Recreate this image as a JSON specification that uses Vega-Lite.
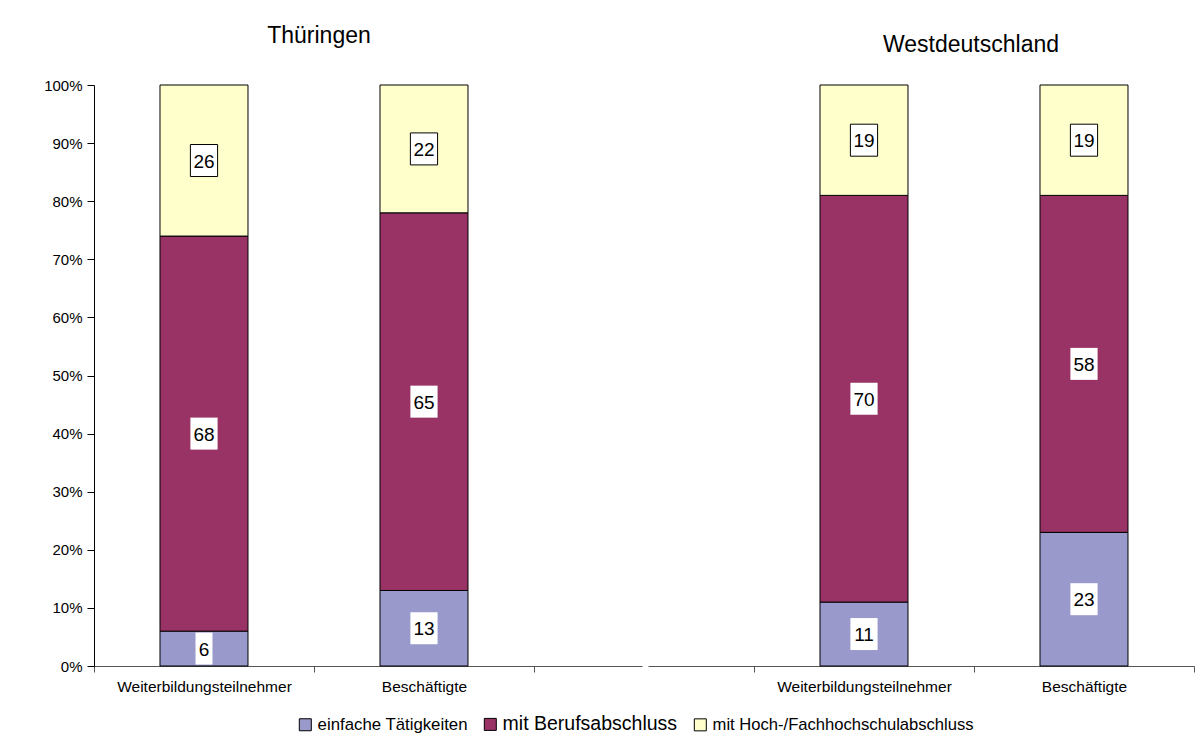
{
  "$schema": "https://vega.github.io/schema/vega-lite/v6.json",
  "padding": {"left": 43, "top": 25, "right": 0, "bottom": 0},
  "spacing": 6,
  "config": {
    "view": {"stroke": null},
    "font": "Liberation Sans",
    "title": {"fontSize": 23, "fontWeight": "normal", "color": "black", "font": "Liberation Sans"}
  },
  "data": {
    "values": [
      {"region": "Thüringen", "group": "Weiterbildungsteilnehmer", "cat": "einfache Tätigkeiten", "ord": 1, "value": 6},
      {"region": "Thüringen", "group": "Weiterbildungsteilnehmer", "cat": "mit Berufsabschluss", "ord": 2, "value": 68},
      {"region": "Thüringen", "group": "Weiterbildungsteilnehmer", "cat": "mit Hoch-/Fachhochschulabschluss", "ord": 3, "value": 26},
      {"region": "Thüringen", "group": "Beschäftigte", "cat": "einfache Tätigkeiten", "ord": 1, "value": 13},
      {"region": "Thüringen", "group": "Beschäftigte", "cat": "mit Berufsabschluss", "ord": 2, "value": 65},
      {"region": "Thüringen", "group": "Beschäftigte", "cat": "mit Hoch-/Fachhochschulabschluss", "ord": 3, "value": 22},
      {"region": "Westdeutschland", "group": "Weiterbildungsteilnehmer", "cat": "einfache Tätigkeiten", "ord": 1, "value": 11},
      {"region": "Westdeutschland", "group": "Weiterbildungsteilnehmer", "cat": "mit Berufsabschluss", "ord": 2, "value": 70},
      {"region": "Westdeutschland", "group": "Weiterbildungsteilnehmer", "cat": "mit Hoch-/Fachhochschulabschluss", "ord": 3, "value": 19},
      {"region": "Westdeutschland", "group": "Beschäftigte", "cat": "einfache Tätigkeiten", "ord": 1, "value": 23},
      {"region": "Westdeutschland", "group": "Beschäftigte", "cat": "mit Berufsabschluss", "ord": 2, "value": 58},
      {"region": "Westdeutschland", "group": "Beschäftigte", "cat": "mit Hoch-/Fachhochschulabschluss", "ord": 3, "value": 19}
    ]
  },
  "transform": [
    {"stack": "value", "groupby": ["region", "group"], "sort": [{"field": "ord", "order": "ascending"}], "as": ["v0", "v1"]},
    {"calculate": "(datum.v0 + datum.v1) / 2", "as": "mid"}
  ],
  "resolve": {"scale": {"color": "shared"}, "legend": {"color": "shared"}},
  "hconcat": [
    {
      "width": 548,
      "height": 581,
      "title": {"text": "Thüringen", "anchor": "middle", "dx": -49, "offset": 12, "baseline": "alphabetic"},
      "transform": [{"filter": "datum.region === 'Thüringen'"}],
      "encoding": {
        "x": {
          "field": "group", "type": "nominal",
          "scale": {"domain": ["Weiterbildungsteilnehmer", "Beschäftigte"], "paddingInner": 0, "paddingOuter": 0.2455, "align": 0},
          "axis": {"title": null, "labelAngle": 0, "labelFontSize": 15.5, "labelColor": "black", "tickBand": "extent", "tickSize": 6, "tickColor": "#555", "domainColor": "#555", "labelPadding": 7}
        }
      },
      "layer": [
        {
          "mark": {"type": "bar", "width": 88, "stroke": "black", "strokeWidth": 1},
          "encoding": {
            "y": {"field": "v0", "type": "quantitative", "scale": {"domain": [0, 100]},
              "axis": {"title": null, "values": [0, 10, 20, 30, 40, 50, 60, 70, 80, 90, 100], "labelExpr": "datum.value + '%'", "labelFontSize": 15, "labelColor": "black", "tickSize": 7, "labelPadding": 5, "domainColor": "black", "tickColor": "black", "grid": false}},
            "y2": {"field": "v1"},
            "color": {"field": "cat", "type": "nominal",
              "scale": {"domain": ["einfache Tätigkeiten", "mit Berufsabschluss", "mit Hoch-/Fachhochschulabschluss"], "range": ["#9999CC", "#993366", "#FFFFCC"]},
              "legend": {"orient": "none", "legendX": 203, "legendY": 631, "direction": "horizontal", "title": null, "labelFontSize": 16.8, "labelLimit": 500, "labelColor": "black", "symbolType": "square", "symbolSize": 144, "symbolStrokeColor": "black", "symbolStrokeWidth": 1, "symbolOpacity": 1, "columnPadding": 14, "labelOffset": 4, "padding": 0,
                "encode": {"labels": {"update": {"fontSize": {"signal": "datum.label === 'mit Berufsabschluss' ? 19.5 : (datum.label === 'einfache Tätigkeiten' ? 16.8 : 16.6)"}}}}}
            }
          }
        },
        {
          "mark": {"type": "point", "filled": true, "fill": "white", "opacity": 1, "stroke": "black", "size": 1024},
          "encoding": {
            "y": {"field": "mid", "type": "quantitative", "scale": {"domain": [0, 100]}},
            "shape": {"condition": {"test": "datum.value < 10", "value": "M-0.53,-1V1H0.53V-1Z"}, "value": "M-0.85,-1V1H0.85V-1Z"},
            "strokeWidth": {"condition": {"test": "datum.ord === 3", "value": 1}, "value": 0}
          }
        },
        {
          "mark": {"type": "text", "fontSize": 19, "color": "black", "align": "center", "baseline": "middle", "dy": 1},
          "encoding": {
            "y": {"field": "mid", "type": "quantitative", "scale": {"domain": [0, 100]}},
            "text": {"field": "value", "type": "quantitative"}
          }
        }
      ]
    },
    {
      "width": 546,
      "height": 581,
      "title": {"text": "Westdeutschland", "anchor": "middle", "dx": 50, "offset": 10, "baseline": "alphabetic"},
      "transform": [{"filter": "datum.region === 'Westdeutschland'"}],
      "encoding": {
        "x": {
          "field": "group", "type": "nominal",
          "scale": {"domain": ["Weiterbildungsteilnehmer", "Beschäftigte"], "paddingInner": 0, "paddingOuter": 0.2409, "align": 1},
          "axis": {"title": null, "labelAngle": 0, "labelFontSize": 15.5, "labelColor": "black", "tickBand": "extent", "tickSize": 6, "tickColor": "#555", "domainColor": "#555", "labelPadding": 7}
        }
      },
      "layer": [
        {
          "mark": {"type": "bar", "width": 88, "stroke": "black", "strokeWidth": 1},
          "encoding": {
            "y": {"field": "v0", "type": "quantitative", "scale": {"domain": [0, 100]}, "axis": null},
            "y2": {"field": "v1"},
            "color": {"field": "cat", "type": "nominal",
              "scale": {"domain": ["einfache Tätigkeiten", "mit Berufsabschluss", "mit Hoch-/Fachhochschulabschluss"], "range": ["#9999CC", "#993366", "#FFFFCC"]}}
          }
        },
        {
          "mark": {"type": "point", "filled": true, "fill": "white", "opacity": 1, "stroke": "black", "size": 1024},
          "encoding": {
            "y": {"field": "mid", "type": "quantitative", "scale": {"domain": [0, 100]}},
            "shape": {"condition": {"test": "datum.value < 10", "value": "M-0.53,-1V1H0.53V-1Z"}, "value": "M-0.85,-1V1H0.85V-1Z"},
            "strokeWidth": {"condition": {"test": "datum.ord === 3", "value": 1}, "value": 0}
          }
        },
        {
          "mark": {"type": "text", "fontSize": 19, "color": "black", "align": "center", "baseline": "middle", "dy": 1},
          "encoding": {
            "y": {"field": "mid", "type": "quantitative", "scale": {"domain": [0, 100]}},
            "text": {"field": "value", "type": "quantitative"}
          }
        }
      ]
    }
  ]
}
